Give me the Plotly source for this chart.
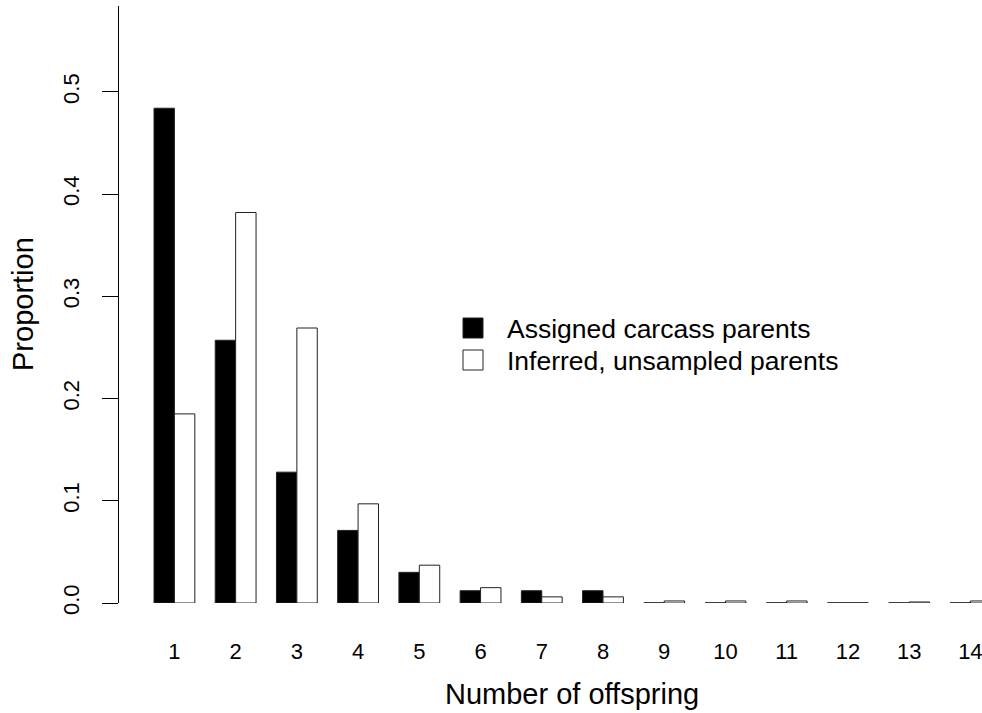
import plotly.graph_objects as go

offspring = list(range(1, 15))
tick_labels = [str(k) for k in offspring]
assigned = [0.484, 0.257, 0.128, 0.071, 0.030, 0.012, 0.012, 0.012, 0.0, 0.0, 0.0, 0.0, 0.0, 0.0]
inferred = [0.185, 0.382, 0.269, 0.097, 0.037, 0.015, 0.006, 0.006, 0.002, 0.002, 0.002, 0.0, 0.001, 0.002]
series_names = ["Assigned carcass parents", "Inferred, unsampled parents"]
y_ticks = [0.0, 0.1, 0.2, 0.3, 0.4, 0.5]
y_tick_text = ["0.0", "0.1", "0.2", "0.3", "0.4", "0.5"]

FONT = "Liberation Sans, Arial, sans-serif"
W, H = 982, 713
L, R, T, B = 119, 0, 6, 110
pw, ph = W - L - R, H - T - B

def px_x(p):
    return (p - L) / pw

def px_y(p):
    return (H - B - p) / ph

fig = go.Figure()
fig.add_trace(go.Bar(x=offspring, y=assigned, name=series_names[0],
                     marker=dict(color="black", line=dict(color="#222", width=1))))
fig.add_trace(go.Bar(x=offspring, y=inferred, name=series_names[1],
                     marker=dict(color="white", line=dict(color="#222", width=1))))

shapes = []
# zero-height bars are drawn as baseline segments (as R does)
for k, a, b in zip(offspring, assigned, inferred):
    if a == 0:
        shapes.append(dict(type="line", xref="x", yref="y", x0=k - 1/3, x1=k, y0=0, y1=0,
                           line=dict(color="#222", width=1)))
    if b == 0:
        shapes.append(dict(type="line", xref="x", yref="y", x0=k, x1=k + 1/3, y0=0, y1=0,
                           line=dict(color="#222", width=1)))

# legend boxes
shapes.append(dict(type="rect", xref="paper", yref="paper",
                   x0=px_x(463), x1=px_x(483), y0=px_y(338), y1=px_y(318),
                   fillcolor="black", line=dict(color="#222", width=1)))
shapes.append(dict(type="rect", xref="paper", yref="paper",
                   x0=px_x(463), x1=px_x(483), y0=px_y(370), y1=px_y(350),
                   fillcolor="white", line=dict(color="#222", width=1)))

annotations = [
    dict(text=series_names[0], xref="paper", yref="paper", x=px_x(505), y=px_y(329),
         xanchor="left", yanchor="middle", showarrow=False, font=dict(size=26.5, color="black", family=FONT)),
    dict(text=series_names[1], xref="paper", yref="paper", x=px_x(505), y=px_y(361),
         xanchor="left", yanchor="middle", showarrow=False, font=dict(size=26.5, color="black", family=FONT)),
    dict(text="Number of offspring", xref="paper", yref="paper", x=px_x(572), y=px_y(694),
         xanchor="center", yanchor="middle", showarrow=False, font=dict(size=29, color="black", family=FONT)),
    dict(text="Proportion", xref="paper", yref="paper", x=px_x(23), y=px_y(304),
         xanchor="center", yanchor="middle", textangle=-90, showarrow=False,
         font=dict(size=29, color="black", family=FONT)),
]

fig.update_layout(
    width=W, height=H,
    margin=dict(l=L, r=R, t=T, b=B, pad=0),
    paper_bgcolor="white", plot_bgcolor="white",
    barmode="group", bargap=1/3, bargroupgap=0,
    showlegend=False,
    font=dict(family=FONT, color="black"),
    shapes=shapes, annotations=annotations,
    xaxis=dict(range=[0.095, 14.19], tickmode="array", tickvals=offspring, ticktext=tick_labels,
               showgrid=False, zeroline=False, showline=False, ticks="",
               ticklabeloverflow="allow",
               tickfont=dict(size=22, color="black"), ticklabelstandoff=33),
    yaxis=dict(range=[0, 0.584], tickmode="array", tickvals=y_ticks, ticktext=y_tick_text,
               showgrid=False, zeroline=False, showline=True, linecolor="black", linewidth=1,
               ticks="outside", ticklen=16, tickcolor="black", tickwidth=1,
               tickangle=-90, tickfont=dict(size=22, color="black"), ticklabelstandoff=14),
)

fig.write_html("out.html", config={"displayModeBar": False},
               post_script="document.body.style.margin='0px';document.body.style.overflow='hidden';")
